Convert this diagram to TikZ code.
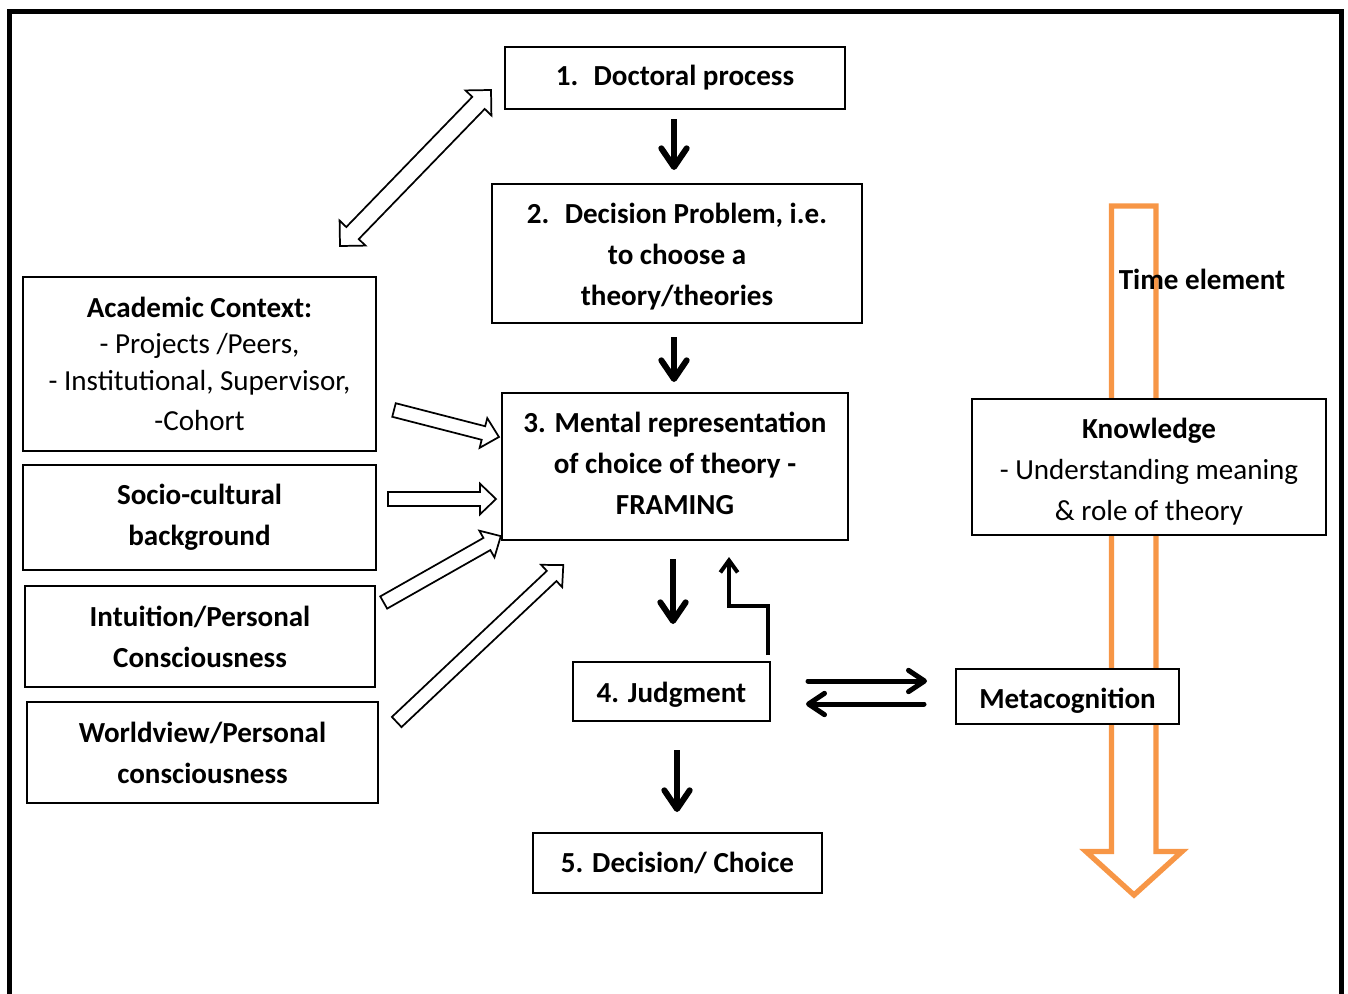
\documentclass[tikz,border=0pt]{standalone}
\usepackage{fontspec}
\setmainfont{Carlito}
\usetikzlibrary{arrows.meta,calc}

\definecolor{timeorange}{HTML}{F79646}

\tikzset{
  box/.style={draw, line width=1.5pt, fill=white, inner sep=0pt, align=center,
    font=\fontsize{21.8pt}{30.75pt}\selectfont\bfseries},
  boxtext/.style={inner sep=0pt, align=center,
    font=\fontsize{21.8pt}{30.75pt}\selectfont\bfseries},
  blk/.style={line width=4.5pt, line join=round,
    -{Straight Barb[length=14pt,width=19pt,round]}},
  thinblk/.style={line width=3pt, line join=miter,
    -{Straight Barb[length=9pt,width=13pt]}},
  swap/.style={line width=3.75pt, line cap=round,
    -{Straight Barb[length=12pt,width=16pt,round]}},
  hollow/.style={draw=black, line width=1.3pt, fill=white, line join=miter},
  timearrow/.style={draw=timeorange, line width=4pt, fill=white, line join=miter},
}

% outlined block arrow from #1 (tail) to #2 (tip):
% #3 shaft half width, #4 head half width, #5 head length
\newcommand\blockarrow[5]{%
  \path let \p1=(#1), \p2=(#2) in \pgfextra{%
    \pgfmathsetmacro\baAngle{atan2(\y2-\y1,\x2-\x1)}%
    \pgfmathsetmacro\baLength{veclen(\x2-\x1,\y2-\y1)}%
    \xdef\baA{\baAngle}\xdef\baL{\baLength}\xdef\baX{\x1}\xdef\baY{\y1}};
  \draw[hollow, shift={(\baX,\baY)}, rotate=\baA]
    (0pt,-#3) -- ({\baL pt-#5},-#3) -- ({\baL pt-#5},-#4) -- ({\baL pt},0pt)
    -- ({\baL pt-#5},#4) -- ({\baL pt-#5},#3) -- (0pt,#3) -- cycle;
}
% outlined block arrow with heads at both ends
\newcommand\blockarrowboth[5]{%
  \path let \p1=(#1), \p2=(#2) in \pgfextra{%
    \pgfmathsetmacro\baAngle{atan2(\y2-\y1,\x2-\x1)}%
    \pgfmathsetmacro\baLength{veclen(\x2-\x1,\y2-\y1)}%
    \xdef\baA{\baAngle}\xdef\baL{\baLength}\xdef\baX{\x1}\xdef\baY{\y1}};
  \draw[hollow, shift={(\baX,\baY)}, rotate=\baA]
    (0pt,0pt) -- (#5,#4) -- (#5,#3) -- ({\baL pt-#5},#3) -- ({\baL pt-#5},#4)
    -- ({\baL pt},0pt) -- ({\baL pt-#5},-#4) -- ({\baL pt-#5},-#3)
    -- (#5,-#3) -- (#5,-#4) -- cycle;
}

\begin{document}
\begin{tikzpicture}[x=0.75pt, y=-0.75pt]
\useasboundingbox (0,0) rectangle (1348,993);
\clip (0,0) rectangle (1348,993);

% outer frame
\draw[line width=3.75pt, line join=miter] (9.5,1010) -- (9.5,11.5) -- (1341.5,11.5) -- (1341.5,1010);

% time element arrow (behind the boxes)
\draw[timearrow] (1111.5,206) -- (1156,206) -- (1156,851.5) -- (1182,851.5)
  -- (1134,895) -- (1086,851.5) -- (1111.5,851.5) -- cycle;
\node[boxtext] (time) at (1202,279) {Time element};

% main chain
\node[box, minimum width=255pt, minimum height=46.5pt] (doc) at (675,78)
  {1.~ Doctoral process};
\node[box, minimum width=277.5pt, minimum height=104.25pt] (dp) at (677,253.5) {};
\node[boxtext] (dp-text) at ($(dp)+(0,3)$)
  {2.~ Decision Problem, i.e.\\to choose a\\theory/theories};
\node[box, minimum width=259.5pt, minimum height=110.25pt] (fr) at (675,466.5) {};
\node[boxtext] (fr-text) at ($(fr)+(0,-3)$)
  {3. Mental representation\\of choice of theory -\\FRAMING};
\node[box, minimum width=147.75pt, minimum height=44.25pt] (jd) at (671.5,691.5) {};
\node[boxtext] (jd-text) at ($(jd)+(0,3)$) {4. Judgment};
\node[box, minimum width=216.75pt, minimum height=45pt] (dc) at (677.5,863)
  {5. Decision/ Choice};

% influences
\node[box, minimum width=264.75pt, minimum height=130.5pt,
  font=\fontsize{21.8pt}{27.4pt}\selectfont\bfseries] (ac) at (199.5,364)
  {Academic Context:\\{\mdseries - Projects /Peers,}\\{\mdseries - Institutional, Supervisor,}\\[3pt]{\mdseries -Cohort}};
\node[box, minimum width=264.75pt, minimum height=78.75pt] (so) at (199.5,517.5)
  {Socio-cultural\\background};
\node[box, minimum width=262.5pt, minimum height=75.75pt] (in) at (200,636.5)
  {Intuition/Personal\\Consciousness};
\node[box, minimum width=263.25pt, minimum height=75.75pt] (wv) at (202.5,752.5)
  {Worldview/Personal\\consciousness};

% right side
\node[box, minimum width=265.5pt, minimum height=102pt] (kn) at (1149,467) {};
\node[boxtext] (kn-text) at ($(kn)+(0,5)$)
  {Knowledge\\{\mdseries - Understanding meaning}\\{\mdseries \& role of theory}};
\node[box, minimum width=167.25pt, minimum height=41.25pt] (mc) at (1067.5,696.5) {};
\node[boxtext] (mc-text) at ($(mc)+(0,4)$) {Metacognition};

% solid arrows along the chain
\draw[blk] ($(doc.south)+(-1,9)$) -- ($(dp.north)+(-3,-13)$);
\draw[blk] ($(dp.south)+(-3,13)$) -- ($(fr.north)+(-1,-10)$);
\draw[blk] ($(fr.south)+(-2,18)$) -- ($(jd.north)+(1.5,-37)$);
\draw[thinblk] ($(jd.north east)+(-3,-6)$) |- ($(fr.south)+(54,65)$) -- ($(fr.south)+(54,16)$);
\draw[blk] ($(jd.south)+(5.5,28)$) -- ($(dc.north)+(-0.5,-20)$);

% judgment <-> metacognition
\draw[swap] ($(jd.east)+(37,-10.5)$) -- ($(mc.west)+(-28,-15.5)$);
\draw[swap] ($(mc.west)+(-31,7.5)$) -- ($(jd.east)+(35,12.5)$);

% outlined block arrows into the framing box
\blockarrowboth{$(ac.north)+(140.5,-30)$}{$(doc.west)+(-13,12)$}{6.5pt}{13.5pt}{13.5pt}
\blockarrow{$(ac.east)+(17,46)$}{$(fr.west)+(-2,-29.5)$}{5.25pt}{11.5pt}{12pt}
\blockarrow{$(so.east)+(11,-18.5)$}{$(fr.west)+(-5,32.5)$}{5.25pt}{11.5pt}{12pt}
\blockarrow{$(in.east)+(7.7,-34)$}{$(fr.south west)+(0,-5)$}{5.25pt}{11.5pt}{12pt}
\blockarrow{$(wv.east)+(17.7,-30.5)$}{$(fr.south west)+(62.3,24)$}{5.25pt}{11.5pt}{12pt}
\end{tikzpicture}
\end{document}
